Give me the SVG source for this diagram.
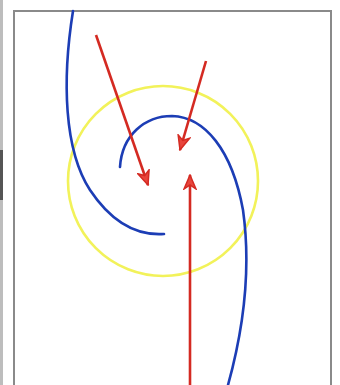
<svg xmlns="http://www.w3.org/2000/svg" width="340" height="385" viewBox="0 0 340 385">
<style>
.blue{fill:none;stroke:#1c3db5;stroke-width:2.6;stroke-linecap:round}
.red{fill:none;stroke:#d42a22;stroke-width:2.6}
.head{fill:#e8453c;stroke:#d42a22;stroke-width:1.5;stroke-linejoin:miter}
</style>
<defs>
<marker id="ah" viewBox="0 0 16 14" refX="15" refY="7" markerWidth="16" markerHeight="14" markerUnits="userSpaceOnUse" orient="auto">
<path class="head" d="M1,1 L15,7 L1,13 L5,7 Z"/>
</marker>
</defs>
<rect width="340" height="385" fill="#ffffff"/>
<rect x="0" y="0" width="3" height="385" fill="#bdbdbd"/>
<rect x="0" y="150" width="3" height="50" fill="#555"/>
<rect x="14" y="11" width="317" height="380" fill="none" stroke="#8a8a8a" stroke-width="2"/>
<g id="circle">
<circle cx="163" cy="181" r="95" fill="none" stroke="#f2f25a" stroke-width="2.6"/>
</g>
<g id="arms">
<path class="blue" d="M73,11 C62,80 64,150 90,190 C110,220 135,236 164,234"/>
<path class="blue" d="M120,167 C122,135 145,116 172,116 C205,117 232,150 243,210 C250,260 246,320 228,385"/>
</g>
<g id="connectors">
<line class="red" x1="96" y1="35" x2="148" y2="185" marker-end="url(#ah)"/>
<line class="red" x1="206" y1="61" x2="180" y2="150" marker-end="url(#ah)"/>
<line class="red" x1="190" y1="385" x2="190" y2="175" marker-end="url(#ah)"/>
</g>
</svg>
